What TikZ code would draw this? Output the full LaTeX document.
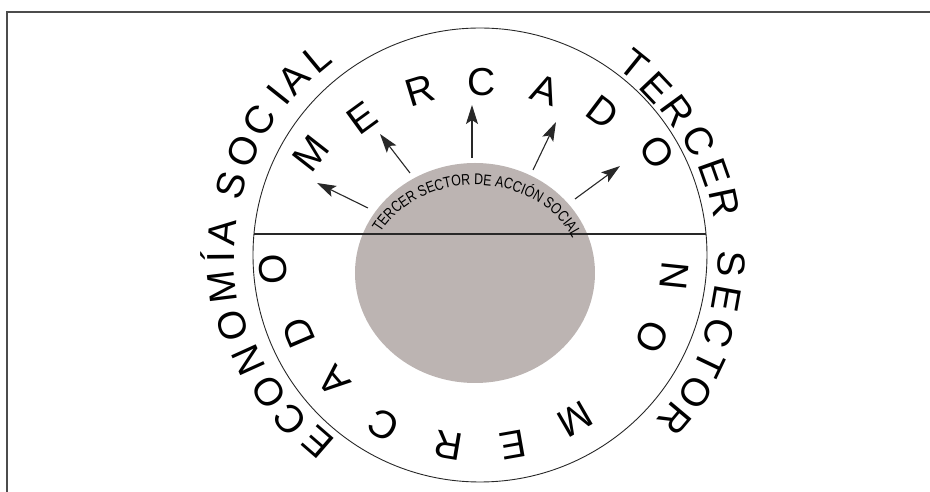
\documentclass[tikz,border=0pt]{standalone}
\usepackage{fontspec}
\setmainfont{Liberation Sans}
\newfontfamily\narrowfont[FakeStretch=0.8]{Liberation Sans}
\usetikzlibrary{arrows.meta,decorations.text}

\definecolor{sectorgris}{RGB}{188,180,178}
\definecolor{trazo}{RGB}{40,40,40}

\tikzset{
  ring/.style={draw=trazo,line width=0.9pt},
  letra/.style={inner sep=0pt,text height=28pt,text depth=0pt,font=\fontsize{39}{39}\selectfont},
  flecha/.style={-{Stealth[length=19pt,width=12pt,inset=4pt]},draw=trazo,line width=1.1pt}
}

\begin{document}
\begin{tikzpicture}[x=1pt,y=1pt]
  \useasboundingbox (-480,-237) rectangle (450,255);
  \draw[black!70,line width=1.5pt] (-473,-237) -- (-473,243) -- (450,243);

  \fill[sectorgris] (-5,-18) ellipse [x radius=120,y radius=110];
  \draw[ring] (0,0) circle [radius=227];
  \coordinate (izq) at (-226,21);
  \coordinate (der) at (226,21);
  \draw[trazo,line width=1.4pt] (izq) -- (der);

  \path[decorate,decoration={text along path,text align=center,
      text={|\narrowfont\fontsize{15.5}{15.5}\selectfont|TERCER SECTOR DE ACCIÓN SOCIAL}}]
    (-5,-18) ++(159:106 and 88) arc [start angle=159,end angle=17,x radius=106,y radius=88];

  \foreach \xa/\ya/\xb/\yb [count=\i] in {-112/47/-163/72, -70/82/-100/121, -8/97/-8/150,
      53/85/76/133, 95/56/140/89} {
    \coordinate (cola\i) at (\xa,\ya);
    \coordinate (punta\i) at (\xb,\yb);
    \draw[flecha] (cola\i) -- (punta\i);
  }

  % mercado
  \foreach \c/\x/\y/\rot [count=\i] in {M/-170/102/52, E/-118/137/36, R/-60/165/17,
      C/2/173/0, A/65/165/-19, D/123/143/-37, O/178/103/-55}
    \node[letra,rotate=\rot] (merc\i) at (\x,\y) {\c};

  % no mercado
  \foreach \c/\a/\r [count=\i] in {N/-6/196, O/-25.4/191, M/-60/190, E/-80/193,
      R/-99.5/194, C/-119.7/196, A/-139.2/194, D/-156.8/198, O/-176/208}
    \node[letra,rotate=\a-90] (nomerc\i) at (\a:\r) {\c};

  \foreach \c/\a/\r [count=\i] in {E/-131/248, C/-139/252, O/-147/252, N/-155.6/255,
      O/-164/258, M/-173/260, Í/-179.6/260, A/175/259, S/164.4/259, O/156.2/259,
      C/148.7/259, I/141.5/258, A/136.5/257, L/129.6/256}
    \node[letra,rotate=\a-90] (eco\i) at (\a:\r) {\c};

  \foreach \c/\a/\r [count=\i] in {T/51/245, E/43.5/244, R/36/245, C/27.5/247,
      E/19.5/249, R/12/251, S/-2/252, E/-10/251, C/-18/252, T/-25.5/255,
      O/-32.5/256, R/-40/255}
    \node[letra,rotate=\a-90] (ter\i) at (\a:\r) {\c};
\end{tikzpicture}
\end{document}
